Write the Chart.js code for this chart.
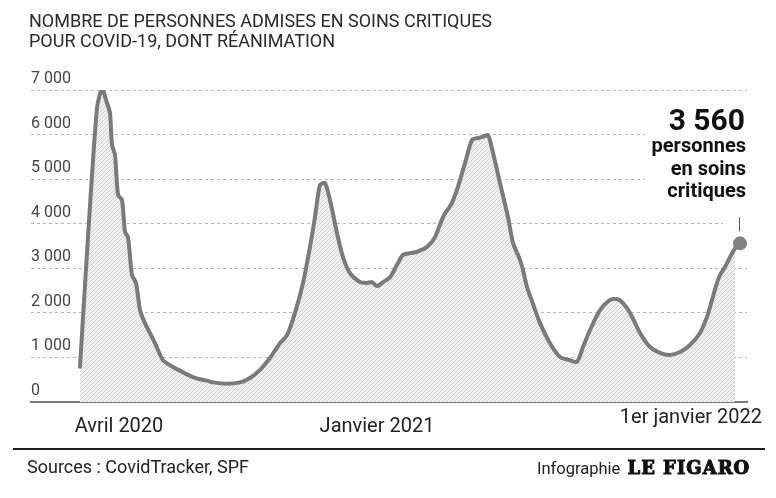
<!DOCTYPE html>
<html lang="fr">
<head>
<meta charset="utf-8">
<script src="https://cdn.jsdelivr.net/npm/chart.js@4.4.1/dist/chart.umd.min.js"></script>
<style>
  html, body { margin: 0; padding: 0; background: #fff; }
  #wrap { position: relative; width: 776px; height: 498px; overflow: hidden; font-family: Roboto, sans-serif; }
  #chart { position: absolute; left: 0; top: 0; }
  .title { position: absolute; left: 29px; top: 11px; font-size: 18px; line-height: 20px; color: #2a2a2a; white-space: nowrap; }
  .rule { position: absolute; left: 13px; top: 448px; width: 752px; height: 2px; background: #1e1e1e; }
  .src { position: absolute; left: 27px; top: 456px; font-size: 18px; line-height: 22px; color: #222; }
  .credit { position: absolute; left: 537px; top: 457px; font-size: 16.5px; line-height: 22px; color: #222; white-space: nowrap; }
  .credit b { font-family: "DejaVu Serif", serif; font-weight: 900; font-size: 18px; letter-spacing: 1px; color: #111; margin-left: 3px; -webkit-text-stroke: 1px #111; }
</style>
</head>
<body>
<div id="wrap">
  <canvas id="chart" width="776" height="498"></canvas>
  <div class="title">NOMBRE DE PERSONNES ADMISES EN SOINS CRITIQUES<br>POUR COVID-19, DONT RÉANIMATION</div>
  <div class="rule"></div>
  <div class="src">Sources : CovidTracker, SPF</div>
  <div class="credit">Infographie <b>LE FIGARO</b></div>
</div>
<script>
// jours comptés depuis le 18 mars 2020
const days = [0, 8, 17, 22, 27, 30, 32, 35, 38, 42, 45, 48, 52, 56, 60, 65, 75, 83, 93, 107, 113, 120, 127, 133, 147, 160, 170, 180, 190, 200, 207, 215, 223, 230, 235, 240, 245, 250, 257, 263, 270, 280, 287, 292, 297, 303, 310, 318, 323, 330, 337, 347, 355, 363, 372, 378, 385, 392, 397, 403, 408, 413, 420, 428, 433, 440, 443, 447, 453, 460, 470, 480, 490, 497, 503, 510, 520, 530, 537, 543, 550, 560, 570, 580, 590, 600, 610, 620, 627, 632, 637, 640, 645, 650, 655];
const patients = [790, 3700, 6600, 7020, 6710, 6485, 5770, 5540, 4650, 4530, 3815, 3700, 2850, 2670, 2065, 1770, 1320, 940, 785, 620, 560, 510, 480, 440, 410, 440, 540, 720, 990, 1320, 1500, 2000, 2670, 3480, 4150, 4870, 4910, 4530, 3790, 3250, 2890, 2690, 2670, 2690, 2600, 2690, 2800, 3120, 3300, 3340, 3370, 3480, 3700, 4150, 4470, 4830, 5360, 5880, 5920, 5950, 5990, 5590, 4910, 4150, 3570, 3190, 2960, 2580, 2200, 1770, 1320, 1010, 940, 900, 1235, 1615, 2060, 2290, 2310, 2220, 2000, 1550, 1235, 1100, 1055, 1120, 1280, 1550, 1910, 2290, 2670, 2850, 3030, 3250, 3450];
const lastDay = 660;
const lastValue = 3560;
const yTicks = [0, 1000, 2000, 3000, 4000, 5000, 6000, 7000];
const xLabels = ["Avril 2020", "Janvier 2021", "1er janvier 2022"];
const xLabelDays = [39, 297, 682];
const annotationLines = ["personnes", "en soins", "critiques"];

const fmt = v => String(v).replace(/\B(?=(\d{3})+(?!\d))/g, " ");

// hachures du remplissage
function hatch() {
  const c = document.createElement("canvas");
  c.width = 4; c.height = 4;
  const g = c.getContext("2d");
  g.fillStyle = "#f0f0f0";
  g.fillRect(0, 0, 4, 4);
  g.strokeStyle = "#d2d2d2";
  g.lineWidth = 1;
  g.beginPath();
  g.moveTo(0, 4); g.lineTo(4, 0);
  g.moveTo(-1, 1); g.lineTo(1, -1);
  g.moveTo(3, 5); g.lineTo(5, 3);
  g.stroke();
  return g.createPattern(c, "repeat");
}

const decor = {
  id: "decor",
  beforeDatasetsDraw(chart) {
    const { ctx, scales: { x, y } } = chart;
    const px = x.getPixelForValue(lastDay), py = y.getPixelForValue(lastValue);
    ctx.save();
    ctx.fillStyle = "#fff";
    ctx.fillRect(px - 95, py - 141, 120, 103);
    ctx.fillRect(px - 17, py - 32, 40, 25);
    ctx.restore();
  },
  afterDatasetsDraw(chart) {
    const { ctx, scales: { x, y } } = chart;
    const px = x.getPixelForValue(lastDay), py = y.getPixelForValue(lastValue);
    ctx.save();
    ctx.strokeStyle = "#555";
    ctx.lineWidth = 1;
    ctx.beginPath();
    ctx.moveTo(Math.round(px) - 0.5, py - 26);
    ctx.lineTo(Math.round(px) - 0.5, py - 12);
    ctx.stroke();

    ctx.fillStyle = "#111";
    ctx.textAlign = "right";
    ctx.textBaseline = "alphabetic";
    ctx.font = "bold 30px Roboto";
    ctx.fillText(fmt(lastValue), px + 5, py - 113);
    ctx.font = "bold 20px Roboto";
    annotationLines.forEach((t, i) => ctx.fillText(t, px + 6, py - 91 + i * 22.5));

    ctx.fillStyle = "#222";
    ctx.font = "20px Roboto";
    xLabels.forEach((t, i) => {
      const last = i === xLabels.length - 1;
      ctx.textAlign = last ? "right" : "center";
      ctx.fillText(t, x.getPixelForValue(xLabelDays[i]), last ? 423 : 432);
    });
    ctx.restore();
  }
};

new Chart(document.getElementById("chart"), {
  type: "line",
  data: {
    datasets: [
      {
        data: days.map((d, i) => ({ x: d, y: patients[i] })),
        borderColor: "#7a7a7a",
        borderWidth: 4,
        backgroundColor: hatch(),
        fill: "origin",
        pointRadius: 0,
        tension: 0.25,
        borderJoinStyle: "round",
        borderCapStyle: "round",
      },
      {
        type: "scatter",
        data: [{ x: lastDay, y: lastValue }],
        pointRadius: 7,
        backgroundColor: "#818181",
        borderWidth: 0,
      },
    ],
  },
  plugins: [decor],
  options: {
    responsive: false,
    animation: false,
    events: [],
    layout: { padding: { left: 31, right: 29, top: 90, bottom: 96 } },
    plugins: { legend: { display: false }, tooltip: { enabled: false } },
    scales: {
      x: {
        type: "linear",
        min: -49,
        max: 667,
        ticks: { display: false },
        grid: { display: false, drawTicks: false },
        border: { display: true, color: "#7a7a7a", width: 2 },
      },
      y: {
        min: 0,
        max: 7000,
        afterBuildTicks: s => { s.ticks = yTicks.map(v => ({ value: v })); },
        ticks: {
          mirror: true,
          padding: 0,
          labelOffset: -11,
          color: "#444",
          font: { family: "Roboto", size: 16 },
          callback: v => fmt(v),
        },
        grid: { color: "#b5b5b5", lineWidth: 1, drawTicks: false },
        border: { display: false, dash: [3, 3] },
      },
    },
  },
});
</script>
</body>
</html>
